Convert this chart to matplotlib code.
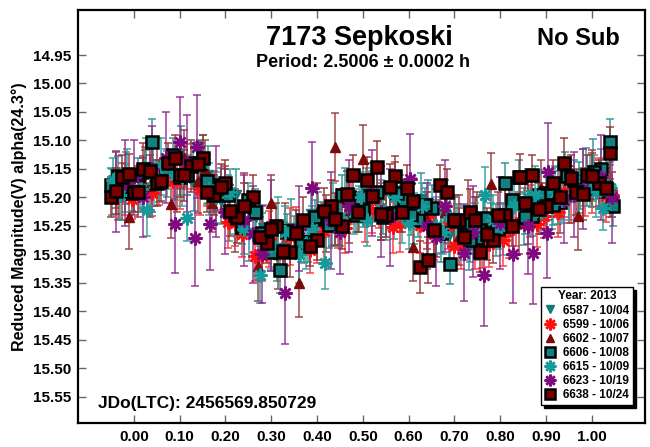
import matplotlib
matplotlib.use("Agg")
import matplotlib.pyplot as plt
from matplotlib.ticker import FormatStrFormatter

plt.rcParams['font.family'] = ['Liberation Sans', 'DejaVu Sans']
plt.rcParams['font.weight'] = 'bold'

# ---- session 6587 (10/04) ----
ph_6587 = [-0.048, -0.018, 0.012, 0.041, 0.072, 0.103, 0.131, 0.162, 0.191, 0.222,
           0.252, 0.281, 0.312, 0.342, 0.371, 0.401, 0.432, 0.461, 0.492, 0.521,
           0.551, 0.582, 0.611, 0.642, 0.671, 0.702, 0.731, 0.762, 0.791, 0.822,
           0.851, 0.882, 0.912, 0.941, 0.972, 1.002, 1.031,
           -0.033, 0.027, 0.087, 0.147, 0.207, 0.267, 0.327, 0.387, 0.447, 0.507,
           0.567, 0.627, 0.687, 0.747, 0.807, 0.867, 0.927, 0.987, 1.045]
mag_6587 = [15.190, 15.166, 15.190, 15.148, 15.159, 15.130, 15.179, 15.160, 15.207, 15.195,
            15.262, 15.253, 15.302, 15.253, 15.275, 15.235, 15.251, 15.198, 15.220, 15.198,
            15.235, 15.210, 15.237, 15.210, 15.263, 15.240, 15.288, 15.243, 15.257, 15.212,
            15.234, 15.197, 15.215, 15.170, 15.182, 15.152, 15.178,
            15.193, 15.146, 15.162, 15.150, 15.227, 15.235, 15.289, 15.229, 15.244, 15.193,
            15.223, 15.203, 15.267, 15.250, 15.256, 15.195, 15.196, 15.158, 15.195]
err_6587 = [0.040, 0.045, 0.035, 0.050, 0.040, 0.055, 0.045, 0.050, 0.040, 0.045,
            0.050, 0.040, 0.045, 0.050, 0.040, 0.045, 0.035, 0.050, 0.040, 0.045,
            0.040, 0.050, 0.045, 0.040, 0.050, 0.045, 0.040, 0.050, 0.045, 0.040,
            0.050, 0.045, 0.040, 0.050, 0.045, 0.055, 0.045,
            0.045, 0.050, 0.040, 0.045, 0.050, 0.040, 0.045, 0.050, 0.040, 0.045,
            0.050, 0.045, 0.040, 0.050, 0.045, 0.040, 0.050, 0.045, 0.040]

# ---- session 6599 (10/06) ----
ph_6599 = [-0.035, -0.005, 0.025, 0.055, 0.085, 0.115, 0.145, 0.175, 0.205, 0.235,
           0.265, 0.295, 0.325, 0.355, 0.385, 0.415, 0.445, 0.475, 0.505, 0.535,
           0.565, 0.595, 0.625, 0.655, 0.685, 0.715, 0.745, 0.775, 0.805, 0.835,
           0.865, 0.895, 0.925, 0.955, 0.985, 1.015, 1.045,
           -0.02, 0.04, 0.10, 0.16, 0.22, 0.28, 0.34, 0.40, 0.46, 0.52,
           0.58, 0.64, 0.70, 0.76, 0.82, 0.88, 0.94, 1.00, 1.03]
mag_6599 = [15.199, 15.203, 15.157, 15.174, 15.171, 15.146, 15.185, 15.188, 15.244, 15.265,
            15.302, 15.273, 15.295, 15.262, 15.293, 15.259, 15.244, 15.207, 15.233, 15.219,
            15.252, 15.209, 15.248, 15.265, 15.251, 15.280, 15.275, 15.282, 15.275, 15.246,
            15.224, 15.232, 15.225, 15.195, 15.193, 15.175, 15.195,
            15.186, 15.193, 15.170, 15.170, 15.245, 15.302, 15.269, 15.275, 15.253, 15.223,
            15.245, 15.235, 15.285, 15.279, 15.257, 15.247, 15.190, 15.187, 15.198]
err_6599 = [0.040, 0.035, 0.045, 0.040, 0.050, 0.040, 0.045, 0.035, 0.045, 0.040,
            0.045, 0.050, 0.040, 0.045, 0.040, 0.050, 0.045, 0.040, 0.045, 0.035,
            0.045, 0.040, 0.050, 0.045, 0.040, 0.045, 0.050, 0.040, 0.045, 0.040,
            0.045, 0.040, 0.045, 0.050, 0.040, 0.045, 0.040,
            0.045, 0.040, 0.050, 0.045, 0.040, 0.045, 0.050, 0.040, 0.045, 0.040,
            0.050, 0.045, 0.040, 0.045, 0.050, 0.040, 0.045, 0.040, 0.045]

# ---- session 6602 (10/07) ----
ph_6602 = [-0.04, -0.01, 0.02, 0.05, 0.08, 0.11, 0.14, 0.17, 0.20, 0.24,
           0.27, 0.30, 0.33, 0.36, 0.40, 0.44, 0.47, 0.50, 0.54, 0.57,
           0.61, 0.64, 0.68, 0.71, 0.75, 0.78, 0.82, 0.86, 0.89, 0.93,
           0.97, 1.00, 1.04,
           -0.025, 0.035, 0.095, 0.155, 0.22, 0.315, 0.42, 0.52, 0.66, 0.73,
           0.84, 0.95]
mag_6602 = [15.169, 15.235, 15.173, 15.145, 15.212, 15.131, 15.172, 15.210, 15.190, 15.212,
            15.321, 15.210, 15.265, 15.350, 15.225, 15.111, 15.225, 15.133, 15.224, 15.193,
            15.287, 15.240, 15.225, 15.268, 15.250, 15.177, 15.217, 15.226, 15.184, 15.208,
            15.232, 15.167, 15.179,
            15.190, 15.180, 15.165, 15.150, 15.240, 15.300, 15.245, 15.195, 15.255, 15.230,
            15.245, 15.195]
err_6602 = [0.050, 0.055, 0.045, 0.050, 0.060, 0.050, 0.055, 0.050, 0.045, 0.055,
            0.060, 0.050, 0.055, 0.060, 0.050, 0.060, 0.055, 0.060, 0.050, 0.055,
            0.060, 0.050, 0.055, 0.050, 0.060, 0.055, 0.050, 0.055, 0.050, 0.055,
            0.060, 0.050, 0.055,
            0.050, 0.055, 0.060, 0.050, 0.055, 0.060, 0.050, 0.055, 0.050, 0.060,
            0.055, 0.050]

# ---- session 6606 (10/08) ----
ph_6606 = [-0.05, -0.02, 0.01, 0.04, 0.07, 0.10, 0.13, 0.16, 0.19, 0.22,
           0.25, 0.28, 0.32, 0.35, 0.38, 0.41, 0.44, 0.47, 0.50, 0.53,
           0.56, 0.59, 0.62, 0.65, 0.69, 0.72, 0.75, 0.78, 0.81, 0.84,
           0.87, 0.90, 0.93, 0.96, 0.99, 1.02, 1.039, 1.046,
           -0.035, -0.005, 0.025, 0.055, 0.085, 0.115, 0.145, 0.175, 0.205, 0.235,
           0.265, 0.30, 0.335, 0.365, 0.395, 0.425, 0.455, 0.485, 0.515, 0.545,
           0.575, 0.605, 0.635, 0.67, 0.705, 0.735, 0.765, 0.795, 0.825, 0.855,
           0.885, 0.915, 0.945, 0.975, 1.005, 1.03]
mag_6606 = [15.178, 15.190, 15.160, 15.103, 15.150, 15.165, 15.140, 15.172, 15.178, 15.230,
            15.204, 15.262, 15.327, 15.262, 15.278, 15.238, 15.245, 15.200, 15.222, 15.190,
            15.228, 15.205, 15.240, 15.218, 15.317, 15.245, 15.272, 15.240, 15.175, 15.164,
            15.232, 15.192, 15.208, 15.170, 15.185, 15.150, 15.103, 15.215,
            15.163, 15.193, 15.156, 15.173, 15.126, 15.161, 15.140, 15.195, 15.195, 15.252,
            15.225, 15.295, 15.259, 15.278, 15.235, 15.248, 15.195, 15.231, 15.198, 15.235,
            15.193, 15.231, 15.214, 15.263, 15.242, 15.274, 15.237, 15.256, 15.205, 15.234,
            15.195, 15.214, 15.163, 15.186, 15.156, 15.188]
err_6606 = [0.030, 0.035, 0.030, 0.040, 0.035, 0.030, 0.035, 0.040, 0.030, 0.035,
            0.030, 0.035, 0.040, 0.030, 0.035, 0.030, 0.040, 0.035, 0.030, 0.035,
            0.030, 0.035, 0.030, 0.040, 0.035, 0.030, 0.035, 0.030, 0.035, 0.030,
            0.035, 0.040, 0.030, 0.035, 0.030, 0.035, 0.040, 0.035,
            0.035, 0.030, 0.040, 0.035, 0.030, 0.035, 0.040, 0.030, 0.035, 0.030,
            0.040, 0.035, 0.030, 0.035, 0.030, 0.040, 0.035, 0.030, 0.035, 0.030,
            0.040, 0.035, 0.030, 0.035, 0.030, 0.040, 0.035, 0.030, 0.035, 0.030,
            0.040, 0.035, 0.030, 0.035, 0.030, 0.040]

# ---- session 6615 (10/09) ----
ph_6615 = [-0.045, -0.015, 0.015, 0.028, 0.06, 0.09, 0.115, 0.15, 0.18, 0.21,
           0.24, 0.275, 0.30, 0.33, 0.36, 0.39, 0.417, 0.45, 0.48, 0.51,
           0.54, 0.57, 0.60, 0.63, 0.66, 0.69, 0.72, 0.745, 0.766, 0.80,
           0.83, 0.86, 0.89, 0.92, 0.95, 0.98, 1.01, 1.025, 1.04,
           -0.03, 0.045, 0.105, 0.165, 0.225, 0.315, 0.375, 0.435, 0.495, 0.585,
           0.675, 0.785, 0.875, 0.935, 0.995]
mag_6615 = [15.170, 15.160, 15.185, 15.222, 15.145, 15.160, 15.236, 15.140, 15.200, 15.190,
            15.255, 15.336, 15.285, 15.260, 15.300, 15.255, 15.315, 15.235, 15.225, 15.240,
            15.220, 15.200, 15.245, 15.215, 15.250, 15.235, 15.270, 15.255, 15.196, 15.250,
            15.215, 15.200, 15.225, 15.190, 15.200, 15.165, 15.190, 15.218, 15.183,
            15.195, 15.175, 15.165, 15.185, 15.230, 15.250, 15.280, 15.215, 15.200, 15.230,
            15.260, 15.240, 15.195, 15.205, 15.170]
err_6615 = [0.040, 0.045, 0.040, 0.045, 0.050, 0.045, 0.040, 0.050, 0.045, 0.040,
            0.045, 0.050, 0.040, 0.045, 0.050, 0.040, 0.045, 0.050, 0.040, 0.045,
            0.050, 0.040, 0.045, 0.040, 0.050, 0.045, 0.040, 0.045, 0.050, 0.040,
            0.045, 0.050, 0.040, 0.045, 0.040, 0.050, 0.045, 0.040, 0.045,
            0.045, 0.040, 0.050, 0.045, 0.040, 0.050, 0.045, 0.040, 0.045, 0.050,
            0.040, 0.045, 0.050, 0.040, 0.045]

# ---- session 6623 (10/19) ----
ph_6623 = [-0.04, 0.0, 0.04, 0.07, 0.09, 0.10, 0.133, 0.137, 0.166, 0.20,
           0.24, 0.28, 0.33, 0.36, 0.39, 0.43, 0.47, 0.52, 0.56, 0.603,
           0.64, 0.68, 0.72, 0.764, 0.80, 0.828, 0.871, 0.902, 0.904, 0.94,
           0.98, 1.02, 1.045,
           -0.02, 0.02, 0.115, 0.18, 0.26, 0.30, 0.45, 0.54, 0.66, 0.74,
           0.86, 0.96]
mag_6623 = [15.190, 15.165, 15.150, 15.130, 15.247, 15.103, 15.271, 15.111, 15.247, 15.225,
            15.240, 15.300, 15.368, 15.255, 15.183, 15.240, 15.215, 15.192, 15.235, 15.168,
            15.250, 15.215, 15.297, 15.336, 15.245, 15.300, 15.297, 15.262, 15.155, 15.205,
            15.185, 15.165, 15.200,
            15.175, 15.200, 15.140, 15.190, 15.265, 15.250, 15.260, 15.225, 15.270, 15.260,
            15.250, 15.195]
err_6623 = [0.070, 0.065, 0.075, 0.080, 0.085, 0.080, 0.085, 0.090, 0.080, 0.075,
            0.080, 0.085, 0.090, 0.075, 0.080, 0.085, 0.080, 0.075, 0.085, 0.080,
            0.075, 0.080, 0.085, 0.090, 0.080, 0.085, 0.090, 0.080, 0.085, 0.075,
            0.070, 0.075, 0.080,
            0.075, 0.070, 0.085, 0.080, 0.085, 0.080, 0.075, 0.080, 0.085, 0.080,
            0.085, 0.075]

# ---- session 6638 (10/24) ----
ph_6638 = [-0.05, -0.025, 0.0, 0.02, 0.05, 0.075, 0.10, 0.125, 0.15, 0.175,
           0.20, 0.225, 0.26, 0.29, 0.31, 0.34, 0.37, 0.40, 0.43, 0.455,
           0.478, 0.51, 0.53, 0.55, 0.57, 0.596, 0.624, 0.642, 0.668, 0.683,
           0.71, 0.735, 0.755, 0.784, 0.81, 0.843, 0.87, 0.90, 0.94, 0.965,
           0.99, 1.015, 1.04,
           -0.04, -0.01, 0.01, 0.035, 0.06, 0.09, 0.11, 0.14, 0.16, 0.19,
           0.21, 0.24, 0.275, 0.30, 0.325, 0.355, 0.385, 0.415, 0.44, 0.465,
           0.49, 0.52, 0.54, 0.56, 0.585, 0.61, 0.655, 0.70, 0.72, 0.745,
           0.77, 0.795, 0.825, 0.855, 0.885, 0.915, 0.93, 0.955, 0.98, 1.0,
           1.03]
mag_6638 = [15.200, 15.165, 15.190, 15.150, 15.175, 15.140, 15.160, 15.145, 15.130, 15.195,
            15.175, 15.235, 15.200, 15.280, 15.250, 15.295, 15.240, 15.275, 15.215, 15.250,
            15.160, 15.169, 15.146, 15.230, 15.162, 15.183, 15.322, 15.310, 15.178, 15.190,
            15.240, 15.225, 15.296, 15.275, 15.230, 15.164, 15.160, 15.215, 15.140, 15.190,
            15.160, 15.175, 15.122,
            15.189, 15.159, 15.190, 15.154, 15.171, 15.131, 15.161, 15.142, 15.190, 15.182,
            15.223, 15.215, 15.269, 15.255, 15.294, 15.262, 15.285, 15.224, 15.238, 15.194,
            15.225, 15.198, 15.229, 15.181, 15.225, 15.206, 15.257, 15.240, 15.270, 15.240,
            15.264, 15.231, 15.250, 15.209, 15.220, 15.174, 15.200, 15.166, 15.194, 15.162,
            15.183]
err_6638 = [0.035, 0.040, 0.035, 0.045, 0.040, 0.035, 0.040, 0.045, 0.040, 0.035,
            0.040, 0.045, 0.040, 0.035, 0.040, 0.045, 0.040, 0.035, 0.045, 0.040,
            0.035, 0.040, 0.045, 0.040, 0.035, 0.040, 0.045, 0.040, 0.035, 0.040,
            0.045, 0.040, 0.035, 0.040, 0.045, 0.040, 0.035, 0.040, 0.045, 0.040,
            0.035, 0.040, 0.045,
            0.040, 0.035, 0.045, 0.040, 0.035, 0.040, 0.045, 0.040, 0.035, 0.040,
            0.045, 0.040, 0.035, 0.040, 0.045, 0.040, 0.035, 0.040, 0.045, 0.040,
            0.035, 0.040, 0.045, 0.040, 0.035, 0.040, 0.045, 0.040, 0.035, 0.040,
            0.045, 0.040, 0.035, 0.040, 0.045, 0.040, 0.035, 0.040, 0.045, 0.040,
            0.035]

session_labels = ["6587 - 10/04", "6599 - 10/06", "6602 - 10/07", "6606 - 10/08",
                  "6615 - 10/09", "6623 - 10/19", "6638 - 10/24"]

x_ticks = [0.0, 0.1, 0.2, 0.3, 0.4, 0.5, 0.6, 0.7, 0.8, 0.9, 1.0]
y_ticks = [14.95, 15.00, 15.05, 15.10, 15.15, 15.20, 15.25, 15.30, 15.35,
           15.40, 15.45, 15.50, 15.55]

star = (8, 2, 0)
styles = [
    dict(marker='v', mfc='#117a7a', mec='#117a7a', ms=7, mew=1, ecolor='#2f9090'),
    dict(marker=star, mfc='#ff1010', mec='#ff1010', ms=10, mew=1.8, ecolor='#ff3030'),
    dict(marker='^', mfc='#7d0a0a', mec='#7d0a0a', ms=7, mew=1, ecolor='#963c3c'),
    dict(marker='s', mfc='#138080', mec='black', ms=8, mew=1.8, ecolor='#2a9090'),
    dict(marker=star, mfc='#159a9a', mec='#159a9a', ms=10, mew=1.8, ecolor='#30a0a0'),
    dict(marker=star, mfc='#7f0a80', mec='#7f0a80', ms=10, mew=1.8, ecolor='#902a90'),
    dict(marker='s', mfc='#7a0000', mec='black', ms=8, mew=1.8, ecolor='#963030'),
]

sessions = [(ph_6587, mag_6587, err_6587), (ph_6599, mag_6599, err_6599),
            (ph_6602, mag_6602, err_6602), (ph_6606, mag_6606, err_6606),
            (ph_6615, mag_6615, err_6615), (ph_6623, mag_6623, err_6623),
            (ph_6638, mag_6638, err_6638)]

fig = plt.figure(figsize=(6.5, 4.47), dpi=100)
ax = fig.add_axes([0.12, 0.0537, 0.8723, 0.9239])

handles = []
for (ph, mag, err), st, lab in zip(sessions, styles, session_labels):
    ax.errorbar(ph, mag, yerr=err, fmt='none', ecolor=st['ecolor'],
                elinewidth=1.2, capsize=3, capthick=1.2, alpha=0.85, zorder=2)
    p, = ax.plot(ph, mag, linestyle='none', marker=st['marker'], mfc=st['mfc'],
                 mec=st['mec'], ms=st['ms'], mew=st['mew'], zorder=3, label=lab)
    handles.append(p)

ax.set_xlim(-0.122, 1.116)
ax.set_ylim(15.596, 14.871)
ax.set_xticks(x_ticks)
ax.set_yticks(y_ticks)
ax.xaxis.set_major_formatter(FormatStrFormatter('%.2f'))
ax.yaxis.set_major_formatter(FormatStrFormatter('%.2f'))
ax.tick_params(direction='in', length=6, width=1, top=True, right=True,
               labelsize=11, pad=5, color='#666666')
for lbl in ax.get_xticklabels() + ax.get_yticklabels():
    lbl.set_fontweight('bold')
for sp in ax.spines.values():
    sp.set_linewidth(1.6)

ax.set_ylabel('Reduced Magnitude(V) alpha(24.3°)', fontsize=11.5, fontweight='bold', labelpad=4)

ax.text(0.497, 0.932, '7173 Sepkoski', transform=ax.transAxes, ha='center', va='center',
        fontsize=19.5, fontweight='bold')
ax.text(0.882, 0.932, 'No Sub', transform=ax.transAxes, ha='center', va='center',
        fontsize=17, fontweight='bold')
ax.text(0.503, 0.872, 'Period: 2.5006 \u00b1 0.0002 h', transform=ax.transAxes,
        ha='center', va='center', fontsize=13, fontweight='bold')
ax.text(0.035, 0.048, 'JDo(LTC): 2456569.850729', transform=ax.transAxes,
        ha='left', va='center', fontsize=12.5, fontweight='bold')

leg = ax.legend(handles=handles, loc='lower right', bbox_to_anchor=(0.979, 0.044),
                borderaxespad=0, title='Year: 2013',
                title_fontproperties={'weight': 'bold', 'size': 8.5},
                prop={'weight': 'bold', 'size': 8.5}, handlelength=1.0,
                handletextpad=0.6, labelspacing=0.18, borderpad=0.3,
                fancybox=False, framealpha=1, edgecolor='black', markerscale=0.85,
                shadow={'color': 'black', 'alpha': 1})
leg.get_frame().set_linewidth(1.0)
leg.set_zorder(10)

fig.savefig('out.png', dpi=100)
